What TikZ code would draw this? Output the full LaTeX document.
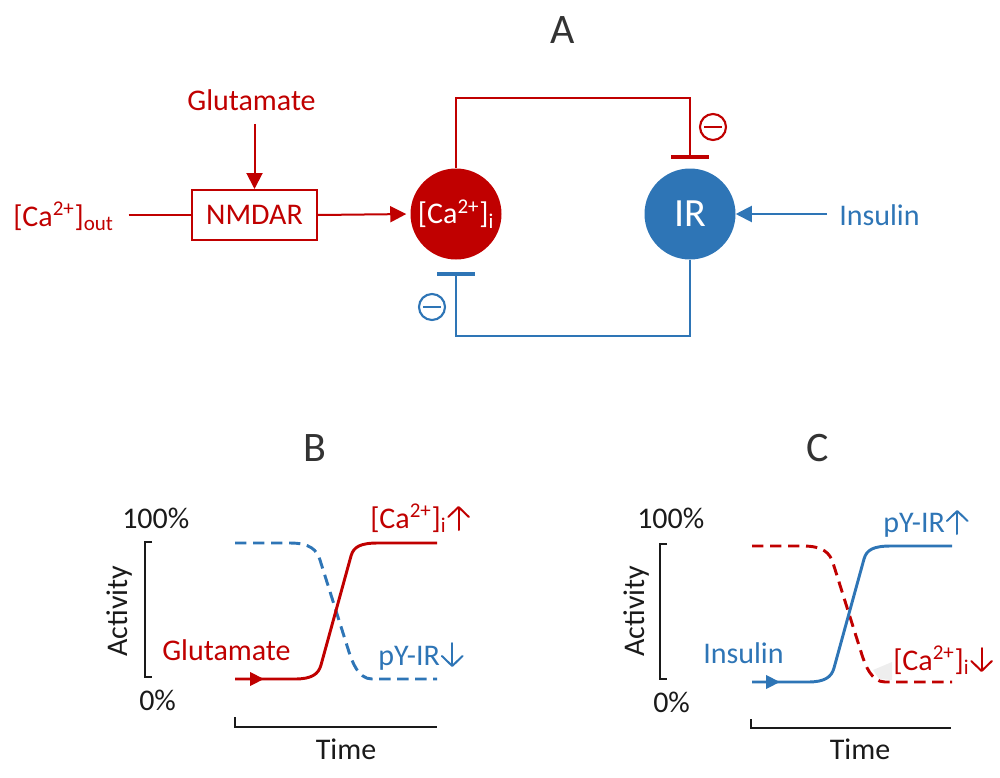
\documentclass[tikz,border=0pt]{standalone}
\usepackage{fontspec}
\setmainfont{Carlito}
\usetikzlibrary{arrows.meta,calc}
\definecolor{cred}{HTML}{C00000}
\definecolor{cblue}{HTML}{2E75B6}
\definecolor{ctxt}{HTML}{1A1A1A}
\definecolor{ctitle}{HTML}{333333}
\definecolor{cshade}{HTML}{EEEEEE}
\newcommand{\CaI}{[Ca\textsuperscript{2+}]\textsubscript{i}}
\newcommand{\CaOut}{[Ca\textsuperscript{2+}]\textsubscript{out}}
\begin{document}
\begin{tikzpicture}[x=0.75pt,y=-0.75pt,
  lbl/.style={font=\fontsize{22.5pt}{27pt}\selectfont, inner sep=0pt},
  ttl/.style={font=\fontsize{31.5pt}{36pt}\selectfont, text=ctitle, inner sep=0pt, anchor=base},
  conn/.style={line width=1.5pt},
  tip/.style={-{Triangle[length=12pt,width=12pt]}},
  tbar/.style={line width=3pt},
  minusc/.style={circle, draw=#1, line width=1.6pt, minimum size=19.5pt, inner sep=0pt,
     path picture={\draw[#1, line width=1.6pt] ([xshift=3.2pt]path picture bounding box.west) -- ([xshift=-3.2pt]path picture bounding box.east);}},
  curve/.style={line width=2.2pt},
  dcurve/.style={line width=2.2pt, dash pattern=on 8.5pt off 5pt},
  axis/.style={line width=1.5pt, draw=ctxt},
  small tip/.style={-{Triangle[length=10.5pt,width=10pt]}},
  glyph arrow/.style={line width=1.5pt, line cap=round,
     -{Straight Barb[length=7.5pt,width=15.5pt,line width=1.5pt,round]}},
]
\useasboundingbox (0,0) rectangle (1000,778);

% titles
\node[ttl] (tA) at (563,43) {A};
\node[ttl] (tB) at (315,461) {B};
\node[ttl] (tC) at (818,461) {C};

% ---------- Panel A ----------
\node[lbl, text=cred, anchor=base west] (caout) at (13,226) {\CaOut};
\node[lbl, text=cred, anchor=base] (glu) at (251.5,110) {Glutamate};
\node[draw=cred, line width=1.5pt, text=cred, font=\fontsize{22.5pt}{27pt}\selectfont,
      minimum width=93.75pt, minimum height=37.5pt, inner sep=0pt] (nmdar) at (254.5,215) {NMDAR};
\node[circle, fill=cred, minimum size=68.25pt, inner sep=0pt, text=white,
      font=\fontsize{22.5pt}{27pt}\selectfont] (ca) at (456,214) {\CaI};
\node[circle, fill=cblue, minimum size=68.25pt, inner sep=0pt, text=white,
      font=\fontsize{30pt}{36pt}\selectfont] (ir) at (690,214) {IR};
\node[lbl, text=cblue, anchor=base west] (ins) at (839,225) {Insulin};

\draw[conn, cred, shorten <=11pt] (caout.east |- nmdar.west) -- (nmdar.west);
\draw[conn, cred, tip, shorten <=10pt] (glu.south -| nmdar.north) -- (nmdar.north);
\draw[conn, cred, tip, shorten >=3pt] (nmdar.east) -- (ca.west);

\draw[conn, cred] (ca.north) -- ++(0,-70) -| ([yshift=8.6pt]ir.north);
\draw[tbar, cred] ([xshift=-13.9pt,yshift=8.6pt]ir.north) -- ([xshift=13.9pt,yshift=8.6pt]ir.north);
\node[minusc=cred] (m1) at (713,127) {};

\draw[conn, cblue] (ir.south) -- ++(0,76) -| ([yshift=-10.9pt]ca.south);
\draw[tbar, cblue] ([xshift=-13.9pt,yshift=-10.9pt]ca.south) -- ([xshift=13.9pt,yshift=-10.9pt]ca.south);
\node[minusc=cblue] (m2) at (432,307) {};

\draw[conn, cblue, tip, shorten <=9pt] (ins.west |- ir.east) -- (ir.east);

% ---------- Panel B ----------
\node[lbl, text=ctxt, anchor=base west] (b100) at (122,528) {100\%};
\node[lbl, text=ctxt, anchor=base west] (b0) at (139,710) {0\%};
\node[lbl, text=ctxt, rotate=90] (bact) at (120,611) {Activity};
\draw[axis] (152,542) -- (145,542) -- (145,677) -- (152,677);
\draw[axis] (235,717) -- (235,727) -- (437,727);
\node[lbl, text=ctxt, anchor=base] (btime) at (346,759) {Time};

\draw[dcurve, cblue] (235,543) -- (290,543) .. controls (310,543) and (317,550) .. (320,560)
   -- (349,652) .. controls (352,661) and (358,679) .. (372,679) -- (437,679);
\draw[curve, cred] (235,679) -- (295,679) .. controls (312,679) and (318.5,674) .. (321,665)
   -- (351,556) .. controls (353.5,547) and (360,543) .. (378,543) -- (437,543);
\draw[curve, cred, small tip] (235,679) -- (264,679);

\node[lbl, text=cred, anchor=base west] (bglu) at (162,660) {Glutamate};
\node[lbl, text=cred, anchor=base west] (bca) at (370,528) {\CaI};
\draw[glyph arrow, cred] ([xshift=9pt,yshift=-1.5pt]bca.base east) -- ++(0,-24);
\node[lbl, text=cblue, anchor=base west] (bpy) at (378,665) {pY-IR};
\draw[glyph arrow, cblue] ([xshift=9pt,yshift=16.5pt]bpy.base east) -- ++(0,24);

% ---------- Panel C ----------
\node[lbl, text=ctxt, anchor=base west] (c100) at (637,528) {100\%};
\node[lbl, text=ctxt, anchor=base west] (c0) at (653,712) {0\%};
\node[lbl, text=ctxt, rotate=90] (cact) at (637,611) {Activity};
\draw[axis] (667,544) -- (660,544) -- (660,679) -- (667,679);
\draw[axis] (751,719) -- (751,728) -- (951,728);
\node[lbl, text=ctxt, anchor=base] (ctime) at (860,759) {Time};

\fill[cshade] (873,670) -- (892,662) -- (892,680) -- (879,679) -- cycle;
\draw[dcurve, cred] (752,546) -- (803,546) .. controls (823,546) and (830,553) .. (833,563)
   -- (862,655) .. controls (865,664) and (871,682) .. (885,682) -- (952,682);
\draw[curve, cblue] (752,682) -- (808,682) .. controls (825,682) and (831.5,677) .. (834,668)
   -- (864,559) .. controls (866.5,550) and (873,546) .. (891,546) -- (952,546);
\draw[curve, cblue, small tip] (752,682) -- (780,682);

\node[lbl, text=cblue, anchor=base west] (cins) at (703,663) {Insulin};
\node[lbl, text=cblue, anchor=base west] (cpy) at (883,532) {pY-IR};
\draw[glyph arrow, cblue] ([xshift=9pt,yshift=-1.5pt]cpy.base east) -- ++(0,-24);
\node[lbl, text=cred, anchor=base west] (cca) at (893,670) {\CaI};
\draw[glyph arrow, cred] ([xshift=9pt,yshift=16.5pt]cca.base east) -- ++(0,24);
\end{tikzpicture}
\end{document}
